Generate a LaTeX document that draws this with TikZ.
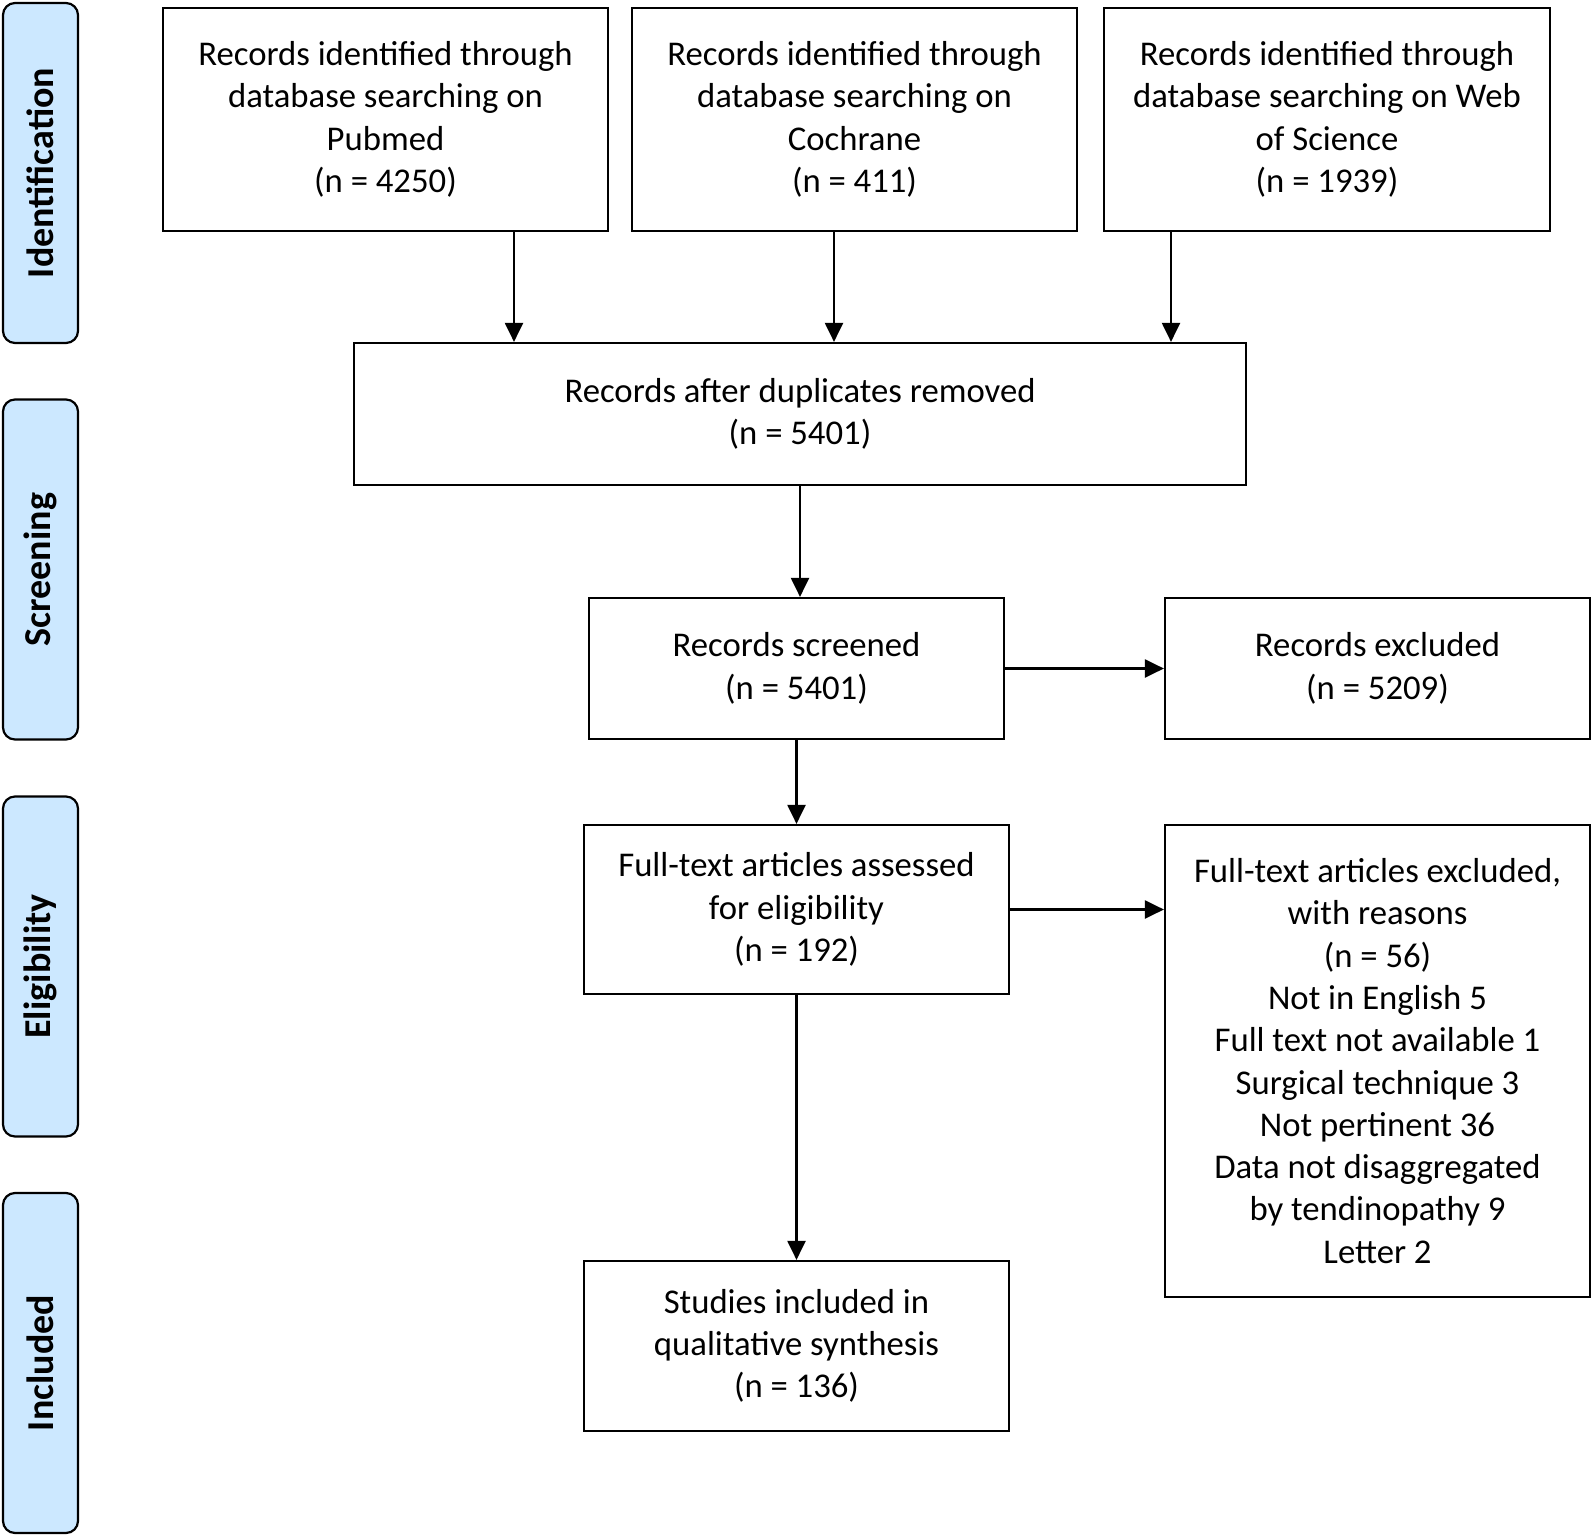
\documentclass[tikz,border=0pt]{standalone}
\usepackage{fontspec}
\setmainfont{Carlito}
\usepackage{tikz}
\usetikzlibrary{arrows.meta}
\definecolor{stagefill}{RGB}{204,232,255}

\begin{document}
\begin{tikzpicture}[x=1pt, y=-1pt, line width=2.2pt,
	>={Triangle[length=19pt,width=18pt]},
	box/.style={draw, rectangle, inner sep=0pt, align=center,
		font=\fontsize{34.7}{42.3}\selectfont},
	stage/.style={draw, fill=stagefill, rounded corners=12pt, rotate=90,
		minimum width=340pt, minimum height=75pt, inner sep=0pt,
		font=\fontsize{38}{44}\selectfont\bfseries}]
	\useasboundingbox (0,0) rectangle (1593,1536);
	% stage labels on the left
	\node [stage] (ID) at (40.5, 173) {Identification};
	\node [stage] (SC) at (40.5, 569.5) {Screening};
	\node [stage] (EL) at (40.5, 966.5) {Eligibility};
	\node [stage] (IN) at (40.5, 1363) {Included};
	% boxes
	\node [box, minimum width=445pt, minimum height=223pt] (PM) at (385.5, 119.5)
		{Records identified through\\database searching on\\Pubmed\\(n = 4250)};
	\node [box, minimum width=445pt, minimum height=223pt] (CO) at (854.5, 119.5)
		{Records identified through\\database searching on\\Cochrane\\(n = 411)};
	\node [box, minimum width=446pt, minimum height=223pt] (WS) at (1327, 119.5)
		{Records identified through\\database searching on Web\\of Science\\(n = 1939)};
	\node [box, minimum width=892pt, minimum height=142pt] (DUP) at (800, 414)
		{Records after duplicates removed\\(n = 5401)};
	\node [box, minimum width=415pt, minimum height=141pt] (SCR) at (796.5, 668.5)
		{Records screened\\(n = 5401)};
	\node [box, minimum width=425pt, minimum height=141pt] (EXC) at (1377.5, 668.5)
		{Records excluded\\(n = 5209)};
	\node [box, minimum width=425pt, minimum height=169pt] (FT) at (796.5, 909.5)
		{Full-text articles assessed\\for eligibility\\(n = 192)};
	\node [box, minimum width=425pt, minimum height=472pt] (FTX) at (1377.5, 1061)
		{Full-text articles excluded,\\with reasons\\(n = 56)\\Not in English 5\\Full text not available 1\\Surgical technique 3\\Not pertinent 36\\Data not disaggregated\\by tendinopathy 9\\Letter 2};
	\node [box, minimum width=425pt, minimum height=170pt] (INC) at (796.5, 1346)
		{Studies included in\\qualitative synthesis\\(n = 136)};
	% connectors
	\draw [->] (PM.south -| 514,0) -- (DUP.north -| 514,0);
	\draw [->] (CO.south -| 834,0) -- (DUP.north -| 834,0);
	\draw [->] (WS.south -| 1171,0) -- (DUP.north -| 1171,0);
	\draw [->] (DUP.south) -- (DUP.south |- SCR.north);
	\draw [->] (SCR.east) -- (EXC.west);
	\draw [->] (SCR) -- (FT);
	\draw [->] (FT.east) -- (FT.east -| FTX.west);
	\draw [->] (FT) -- (INC);
\end{tikzpicture}
\end{document}
